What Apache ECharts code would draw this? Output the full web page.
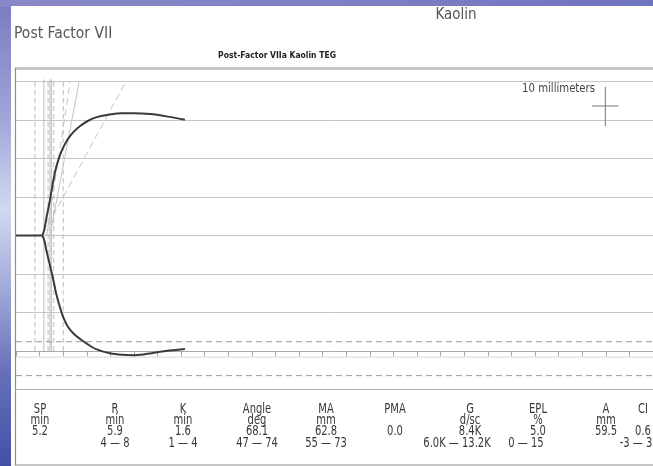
<!DOCTYPE html>
<html>
<head>
<meta charset="utf-8">
<script src="https://cdn.jsdelivr.net/npm/echarts@6/dist/echarts.min.js"></script>
<style>
  html, body { margin: 0; padding: 0; background: #ffffff; }
  #chart { width: 653px; height: 466px; }
</style>
</head>
<body>
<div id="chart"></div>
<script>
// TEG tracing: time in minutes (x), amplitude in millimetres (y)
const baselineTimes = [0, 5.57];
const baselineAmp = [0, 0];

const upperTimes = [5.57, 6.0, 6.5, 7.2, 7.9, 8.5, 9.3, 10.2, 11.1, 12.3, 13.6, 15.2, 17.1, 19.9, 22.5, 24.9, 28.4, 31.9, 35.8];
const upperAmp   = [0, 1.5, 4.9, 9.2, 14.2, 17.6, 20.8, 23.3, 25.2, 27.0, 28.4, 29.7, 30.7, 31.4, 31.7, 31.7, 31.5, 30.9, 30.0];

const lowerTimes = [5.57, 6.0, 6.5, 7.2, 7.9, 8.5, 9.3, 10.0, 11.0, 12.3, 13.6, 15.0, 17.1, 19.9, 22.5, 24.9, 27.0, 29.1, 32.6, 35.8];
const lowerAmp   = [0, -1.3, -4.2, -7.8, -11.5, -15.0, -18.6, -21.2, -23.7, -25.6, -26.9, -28.1, -29.6, -30.6, -31.0, -31.1, -30.9, -30.5, -29.9, -29.5];

// Reference (R / K) markers, minutes
const markerTimes  = [4.0, 5.9, 6.8, 7.2, 7.5, 8.0, 10.0];
const markerDashed = [true, false, true, false, false, true, true];

// Angle guide lines: [t0, a0, t1, a1, dashed]
const angleLines = [[5.6, 0, 23.3, 40, true], [7.2, 0, 13.4, 40, false], [6.5, 0, 11.5, 40, true]];

// Dashed limit lines, mm
const limitLevels = [-27.6, -36.4];

// Parameter table
const paramNames  = ['SP', 'R', 'K', 'Angle', 'MA', 'PMA', 'G', 'EPL', 'A', 'CI'];
const paramUnits  = ['min', 'min', 'min', 'deg', 'mm', '', 'd/sc', '%', 'mm', ''];
const paramValues = ['5.2', '5.9', '1.6', '68.1', '62.8', '0.0', '8.4K', '5.0', '59.5', '0.6'];
const paramRanges = ['', '4 \u2014 8', '1 \u2014 4', '47 \u2014 74', '55 \u2014 73', '', '6.0K \u2014 13.2K', '0 \u2014 15', '', '-3 \u2014 3'];
const paramX      = [40, 115, 183, 257, 326, 395, 470, 538, 606, 643];
const rangeX      = [40, 115, 183, 257, 326, 395, 457, 526, 606, 636];

const FONT = '"DejaVu Sans Condensed", "Liberation Sans Narrow", "Liberation Sans", sans-serif';

const pairs = (xs, ys) => xs.map((x, i) => [x, ys[i]]);

const chart = echarts.init(document.getElementById('chart'), null, { renderer: 'canvas' });

const series = [];

// marker verticals
markerTimes.forEach((t, i) => {
  series.push({
    type: 'line', xAxisIndex: 0, yAxisIndex: 0, silent: true, symbol: 'none',
    data: [[t, -30], [t, 40.5]],
    lineStyle: { color: '#bdbdbd', width: 1, type: markerDashed[i] ? [5, 3] : 'solid' },
    z: 2
  });
});

// angle guides
angleLines.forEach(l => {
  series.push({
    type: 'line', silent: true, symbol: 'none',
    data: [[l[0], l[1]], [l[2], l[3]]],
    lineStyle: { color: '#c4c4c4', width: 1, type: l[4] ? [7, 4] : 'solid' },
    z: 2
  });
});

// dashed limit lines
limitLevels.forEach(v => {
  series.push({
    type: 'line', silent: true, symbol: 'none',
    data: [[0, v], [135, v]],
    lineStyle: { color: '#9a9a9a', width: 1, type: [6, 4] },
    z: 2
  });
});

// thin line under the time ruler
series.push({
  type: 'line', silent: true, symbol: 'none',
  data: [[0, -31.6], [135, -31.6]],
  lineStyle: { color: '#d6d6d6', width: 1 },
  z: 2
});

// 10 mm scale cross
series.push({
  type: 'line', silent: true, symbol: 'none',
  data: [[124.9, 38.6], [124.9, 28.3]],
  lineStyle: { color: '#777', width: 1 }, z: 3
});
series.push({
  type: 'line', silent: true, symbol: 'none',
  data: [[122.1, 33.6], [127.7, 33.6]],
  lineStyle: { color: '#777', width: 1 }, z: 3
});

// tracing
const traceStyle = { color: '#3a3a3a', width: 2 };
series.push({ type: 'line', symbol: 'none', data: pairs(baselineTimes, baselineAmp), lineStyle: traceStyle, z: 5 });
series.push({ type: 'line', symbol: 'none', smooth: 0.3, data: pairs(upperTimes, upperAmp), lineStyle: traceStyle, z: 5 });
series.push({ type: 'line', symbol: 'none', smooth: 0.3, data: pairs(lowerTimes, lowerAmp), lineStyle: traceStyle, z: 5 });

// time ruler (second grid, shares the time scale)
series.push({ type: 'line', xAxisIndex: 1, yAxisIndex: 1, symbol: 'none', data: [], silent: true });

// table text
const tableText = [];
const rows = [paramNames, paramUnits, paramValues, paramRanges];
const rowY = [402.5, 413.5, 424, 436];
rows.forEach((row, r) => {
  row.forEach((s, i) => {
    if (!s) return;
    tableText.push({
      type: 'text', x: r === 3 ? rangeX[i] : paramX[i], y: rowY[r], silent: true,
      scaleX: 0.82,
      style: { text: s, fill: '#383838', font: '13.5px ' + FONT, textAlign: 'center', textVerticalAlign: 'top' }
    });
  });
});

const option = {
  animation: false,
  backgroundColor: 'transparent',
  grid: [
    { left: 16, right: 0, top: 69, bottom: 76.5, show: false },
    { left: 16, right: 0, top: 340, height: 11.5, show: false }
  ],
  xAxis: [
    { type: 'value', gridIndex: 0, min: 0, max: 135, interval: 5, show: false },
    {
      type: 'value', gridIndex: 1, min: 0, max: 135, interval: 5,
      axisLine: { show: true, lineStyle: { color: '#a8a8a8', width: 1 } },
      axisTick: { show: true, inside: false, length: 5, lineStyle: { color: '#a8a8a8' } },
      axisLabel: { show: false }, splitLine: { show: false }
    }
  ],
  yAxis: [
    {
      type: 'value', gridIndex: 0, min: -40, max: 43.2, interval: 10,
      axisLine: { show: false }, axisTick: { show: false }, axisLabel: { show: false },
      splitLine: { show: true, lineStyle: { color: '#c6c6c6', width: 1 } }
    },
    { type: 'value', gridIndex: 1, min: 0, max: 1, show: false }
  ],
  graphic: [
    // slide backdrop
    {
      type: 'rect', shape: { x: 0, y: 0, width: 653, height: 466 }, z: -10, silent: true,
      style: {
        fill: new echarts.graphic.LinearGradient(0, 0, 0, 1, [
          { offset: 0, color: '#7b79c2' },
          { offset: 0.25, color: '#9fa4d8' },
          { offset: 0.45, color: '#d2d8ef' },
          { offset: 0.6, color: '#a7afdc' },
          { offset: 0.8, color: '#6670ba' },
          { offset: 1, color: '#4350a6' }
        ])
      }
    },
    {
      type: 'rect', shape: { x: 0, y: 0, width: 653, height: 7 }, z: -9, silent: true,
      style: {
        fill: new echarts.graphic.LinearGradient(0, 0, 1, 0, [
          { offset: 0, color: '#8a88c8' },
          { offset: 0.5, color: '#7f80c6' },
          { offset: 1, color: '#7073be' }
        ])
      }
    },
    { type: 'rect', shape: { x: 11, y: 6, width: 642, height: 460 }, z: -8, silent: true, style: { fill: '#ffffff' } },
    // chart frame
    { type: 'rect', shape: { x: 15.5, y: 68, width: 640, height: 397 }, z: 1, silent: true,
      style: { fill: 'none', stroke: '#8e8e8e', lineWidth: 1.2 } },
    { type: 'line', shape: { x1: 15, y1: 389.5, x2: 653, y2: 389.5 }, z: 1, silent: true,
      style: { stroke: '#b0b0b0', lineWidth: 1 } },
    // headings
    { type: 'text', x: 14, y: 26, silent: true,
      style: { text: 'Post Factor VII', fill: '#555555', font: '15.5px ' + FONT, textVerticalAlign: 'top' } },
    { type: 'text', x: 456, y: 8, silent: true,
      style: { text: 'Kaolin', fill: '#555555', font: '15px ' + FONT, textAlign: 'center', textVerticalAlign: 'top' } },
    { type: 'text', x: 277, y: 51, silent: true,
      style: { text: 'Post-Factor VIIa Kaolin TEG', fill: '#222222', font: 'bold 8.5px ' + FONT, textAlign: 'center', textVerticalAlign: 'top' } },
    { type: 'text', x: 595, y: 82, silent: true, scaleX: 0.9,
      style: { text: '10 millimeters', fill: '#444444', font: '12.5px ' + FONT, textAlign: 'right', textVerticalAlign: 'top' } }
  ].concat(tableText),
  series: series
};

chart.setOption(option);
</script>
</body>
</html>
